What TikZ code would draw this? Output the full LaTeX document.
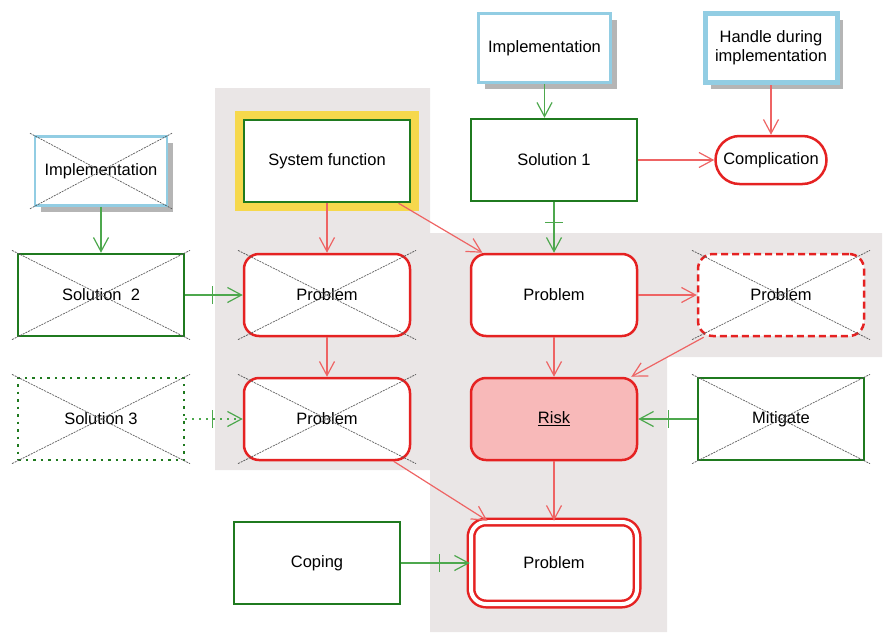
\documentclass[tikz,border=0pt]{standalone}
\usepackage{fontspec}
\setmainfont{Liberation Sans}
\usepackage{tikz}
\usetikzlibrary{positioning, calc, shadows, arrows.meta, decorations.markings}

\definecolor{bggray}{HTML}{EAE6E6}
\definecolor{solgreen}{HTML}{1F7A1F}
\definecolor{lnkgreen}{HTML}{4DA84D}
\definecolor{probred}{HTML}{E52222}
\definecolor{lnkred}{HTML}{EE6464}
\definecolor{implblue}{HTML}{92CDE3}
\definecolor{shadowgray}{HTML}{B5B5B5}
\definecolor{funyellow}{HTML}{F6D84C}
\definecolor{riskpink}{HTML}{F8B9B9}
\definecolor{xgray}{HTML}{5A5A5A}

% crossed-out box
\newcommand{\xoutnode}[1]{%
  \draw[xline] ($(#1.north west)!-0.028!(#1.south east)$) -- ($(#1.south east)!-0.028!(#1.north west)$);
  \draw[xline] ($(#1.south west)!-0.028!(#1.north east)$) -- ($(#1.north east)!-0.028!(#1.south west)$);}

\begin{document}
\begin{tikzpicture}[x=1pt, y=1pt, node distance=124pt, font=\fontsize{16.5}{19}\selectfont]

\tikzstyle{solution} = [rectangle, minimum width=166pt, minimum height=82pt, text centered, draw=solgreen, line width=2.5pt, fill=white]
\tikzstyle{problem} = [rectangle, rounded corners=15pt, minimum width=166pt, minimum height=82pt, text centered, draw=probred, line width=2.5pt, fill=white]
\tikzstyle{impl} = [rectangle, minimum width=132pt, minimum height=69pt, text centered, draw=implblue, line width=2.5pt, fill=white, drop shadow={shadow xshift=6pt, shadow yshift=-6pt, fill=shadowgray, opacity=1}]
\tikzstyle{xline} = [xgray, line width=0.7pt, dash pattern=on 2pt off 1pt]
\tikzstyle{redarrow} = [lnkred, line width=1.2pt, -{Straight Barb[length=14pt, width=15pt]}]
\tikzstyle{greenarrow} = [lnkgreen, line width=1.2pt, -{Straight Barb[length=14pt, width=15pt]}]
\tikzstyle{barred} = [postaction={decorate}, decoration={markings, mark=at position -30pt with {\draw[-, solid, lnkgreen, line width=1.2pt] (0,-9pt) -- (0,9pt);}}]

\useasboundingbox (0,0) rectangle (883,-632);
\fill[bggray] (215,-88) -- (430,-88) -- (430,-233) -- (882,-233) -- (882,-357) -- (667,-357) -- (667,-632) -- (430,-632) -- (430,-470) -- (215,-470) -- cycle;

\node (sysfun) [solution, preaction={draw=funyellow, line width=18.5pt}] at (327,-161) {System function};
\node (probA) [problem, below of=sysfun, yshift=-10pt] {Problem};
\node (probB) [problem, below of=probA] {Problem};
\node (sol2) [solution, left of=probA, xshift=-102pt] {Solution\ \ 2};
\node (sol3) [solution, below of=sol2, dash pattern=on 2.5pt off 5pt] {Solution 3};
\node (implL) [impl, above of=sol2] {Implementation};
\node (coping) [solution, below of=probB, yshift=-20pt, xshift=-10pt] {Coping};

\node (sol1) [solution] at (554,-160) {Solution 1};
\node (implT) [impl, above of=sol1, yshift=-12pt, xshift=-9.5pt] {Implementation};
\node (probC) [problem, below of=sol1, yshift=-11pt] {Problem};
\node (risk) [problem, below of=probC, fill=riskpink] {\underline{Risk}};
\node (probE) [problem, below of=risk, yshift=-20pt, double=white, double distance=4pt] {Problem};

\node (complic) [problem, right of=sol1, xshift=93pt, rounded corners=24pt, minimum width=111pt, minimum height=48pt] {Complication};
\node (handle) [impl, above of=complic, yshift=-12pt, line width=5pt, align=center] {Handle during\\implementation};
\node (probD) [problem, right of=probC, xshift=103pt, dash pattern=on 7pt off 4pt] {Problem};
\node (mitigate) [solution, below of=probD] {Mitigate};

\xoutnode{implL}
\xoutnode{sol2}
\xoutnode{sol3}
\xoutnode{probA}
\xoutnode{probB}
\xoutnode{probD}
\xoutnode{mitigate}

\draw [greenarrow] (implL) -- (sol2);
\draw [greenarrow, barred] (sol2) -- (probA);
\draw [greenarrow, barred, dash pattern=on 2pt off 5pt] (sol3) -- (probB);
\draw [redarrow] (sysfun) -- (probA);
\draw [redarrow] (sysfun) -- (probC);
\draw [redarrow] (probA) -- (probB);
\draw [redarrow] (probB) -- (probE);
\draw [greenarrow] (implT.south) -- (implT.south |- sol1.north);
\draw [redarrow] (handle) -- (complic);
\draw [redarrow] (sol1) -- (complic);
\draw [greenarrow, barred] (sol1) -- (probC);
\draw [redarrow] (probC) -- (probD);
\draw [redarrow] (probC) -- (risk);
\draw [redarrow] (probD) -- (risk);
\draw [greenarrow, barred] (mitigate) -- (risk);
\draw [redarrow] (risk) -- (probE);
\draw [greenarrow, barred] (coping) -- (probE);
\end{tikzpicture}
\end{document}
